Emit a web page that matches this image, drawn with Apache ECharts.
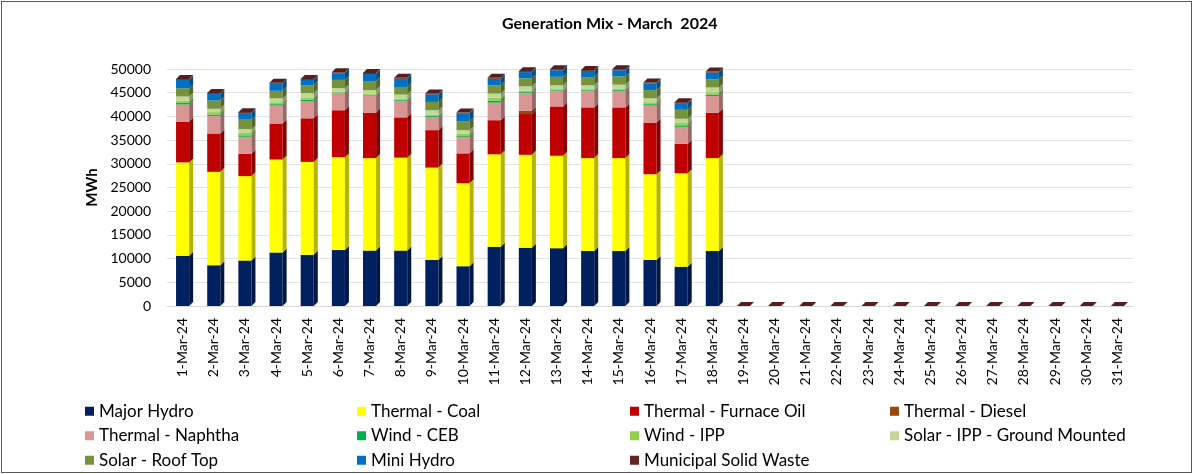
<!DOCTYPE html>
<html>
<head>
<meta charset="utf-8">
<script src="https://cdn.jsdelivr.net/npm/echarts@6/dist/echarts.min.js"></script>
<style>
  html, body { margin: 0; padding: 0; background: #fff; }
  #frame {
    position: absolute; left: 1px; top: 1px;
    width: 1189px; height: 470px;
    border: 1px solid #595959;
  }
  #echart { position: absolute; left: 0; top: 0; width: 1197px; height: 474px; }
</style>
</head>
<body>
<div id="frame"></div>
<div id="echart"></div>
<script>
var days = ['1-Mar-24', '2-Mar-24', '3-Mar-24', '4-Mar-24', '5-Mar-24', '6-Mar-24', '7-Mar-24', '8-Mar-24',
  '9-Mar-24', '10-Mar-24', '11-Mar-24', '12-Mar-24', '13-Mar-24', '14-Mar-24', '15-Mar-24', '16-Mar-24',
  '17-Mar-24', '18-Mar-24', '19-Mar-24', '20-Mar-24', '21-Mar-24', '22-Mar-24', '23-Mar-24', '24-Mar-24',
  '25-Mar-24', '26-Mar-24', '27-Mar-24', '28-Mar-24', '29-Mar-24', '30-Mar-24', '31-Mar-24'];

// MWh per day, 19-Mar onwards not reported yet
var majorHydro = [10600, 8600, 9600, 11300, 10800, 11800, 11700, 11700, 9700, 8400, 12500, 12300, 12200, 11600, 11600, 9700, 8300, 11600, 0, 0, 0, 0, 0, 0, 0, 0, 0, 0, 0, 0, 0];
var thermalCoal = [19700, 19700, 17800, 19600, 19600, 19600, 19500, 19600, 19500, 17500, 19500, 19600, 19500, 19600, 19600, 18100, 19700, 19600, 0, 0, 0, 0, 0, 0, 0, 0, 0, 0, 0, 0, 0];
var furnaceOil = [8600, 8100, 4700, 7600, 9200, 9900, 9600, 8500, 7900, 6300, 7200, 8600, 10400, 10700, 10700, 10900, 6200, 9600, 0, 0, 0, 0, 0, 0, 0, 0, 0, 0, 0, 0, 0];
var diesel = [0, 0, 0, 0, 0, 0, 0, 0, 0, 0, 0, 700, 0, 0, 0, 0, 0, 0, 0, 0, 0, 0, 0, 0, 0, 0, 0, 0, 0, 0, 0];
var naphtha = [3600, 3700, 3600, 3800, 3600, 3600, 3600, 3500, 2800, 3500, 3700, 3700, 3300, 3500, 3500, 3600, 3600, 3500, 0, 0, 0, 0, 0, 0, 0, 0, 0, 0, 0, 0, 0];
var windCEB = [350, 300, 300, 280, 300, 150, 150, 200, 200, 280, 400, 220, 150, 150, 200, 280, 320, 320, 0, 0, 0, 0, 0, 0, 0, 0, 0, 0, 0, 0, 0];
var windIPP = [450, 500, 500, 420, 500, 200, 200, 300, 300, 420, 600, 330, 200, 200, 300, 420, 480, 480, 0, 0, 0, 0, 0, 0, 0, 0, 0, 0, 0, 0, 0];
var solarIPP = [900, 700, 800, 800, 900, 700, 800, 800, 900, 700, 900, 900, 800, 800, 800, 800, 900, 1000, 0, 0, 0, 0, 0, 0, 0, 0, 0, 0, 0, 0, 0];
var solarRoof = [1750, 1750, 2000, 1600, 1700, 1750, 1900, 1600, 1750, 1900, 1750, 1700, 1800, 1750, 1750, 1750, 1900, 1750, 0, 0, 0, 0, 0, 0, 0, 0, 0, 0, 0, 0, 0];
var miniHydro = [1750, 1400, 1400, 1500, 1100, 1400, 1500, 1750, 1600, 1600, 1400, 1300, 1400, 1300, 1300, 1400, 1400, 1400, 0, 0, 0, 0, 0, 0, 0, 0, 0, 0, 0, 0, 0];
var msw = [200, 200, 200, 200, 200, 200, 200, 200, 200, 200, 200, 200, 200, 200, 200, 200, 200, 200, 0, 0, 0, 0, 0, 0, 0, 0, 0, 0, 0, 0, 0];

var yTicks = [0, 5000, 10000, 15000, 20000, 25000, 30000, 35000, 40000, 45000, 50000];

var names = ['Major Hydro', 'Thermal - Coal', 'Thermal - Furnace Oil', 'Thermal - Diesel', 'Thermal - Naphtha',
  'Wind - CEB', 'Wind - IPP', 'Solar - IPP - Ground Mounted', 'Solar - Roof Top', 'Mini Hydro', 'Municipal Solid Waste'];
var values = [majorHydro, thermalCoal, furnaceOil, diesel, naphtha, windCEB, windIPP, solarIPP, solarRoof, miniHydro, msw];
var colors = ['#002060', '#FFFF00', '#C00000', '#984807', '#DA9694', '#00B050', '#92D050', '#C4D79B', '#76933C', '#0070C0', '#632523'];

var depth = 4;

function shade(hex, k) {
  var n = parseInt(hex.slice(1), 16);
  var r = Math.round(((n >> 16) & 255) * k);
  var g = Math.round(((n >> 8) & 255) * k);
  var b = Math.round((n & 255) * k);
  return 'rgb(' + r + ',' + g + ',' + b + ')';
}

function makeRender(idx, isTop) {
  return function (params, api) {
    var lo = api.coord([api.value(0), api.value(1)]);
    var hi = api.coord([api.value(0), api.value(2)]);
    var bw = api.size([1, 0])[0] * 0.42;
    var x = lo[0] - bw / 2;
    var h = lo[1] - hi[1];
    var c = colors[idx];
    var parts = [];
    if (h > 0) {
      parts.push({type: 'rect', shape: {x: x, y: hi[1], width: bw, height: h}, style: {fill: c}});
      parts.push({
        type: 'polygon',
        shape: {points: [[x + bw, hi[1]], [x + bw + depth, hi[1] - depth], [x + bw + depth, lo[1] - depth], [x + bw, lo[1]]]},
        style: {fill: shade(c, 0.7)}
      });
    }
    if (isTop) {
      parts.push({
        type: 'polygon',
        shape: {points: [[x, hi[1]], [x + depth, hi[1] - depth], [x + bw + depth, hi[1] - depth], [x + bw, hi[1]]]},
        style: {fill: shade(c, 0.85)}
      });
    }
    return {type: 'group', children: parts};
  };
}

var series = [];
var cum = days.map(function () { return 0; });
for (var i = 0; i < names.length; i++) {
  var data = [];
  for (var j = 0; j < days.length; j++) {
    data.push([j, cum[j], cum[j] + values[i][j]]);
    cum[j] += values[i][j];
  }
  series.push({
    name: names[i],
    type: 'custom',
    renderItem: makeRender(i, i === names.length - 1),
    itemStyle: {color: colors[i]},
    encode: {x: 0, y: [1, 2]},
    clip: false,
    data: data
  });
}

function legendCol(left, items) {
  return {
    orient: 'vertical',
    left: left,
    top: 402,
    height: 90,
    padding: 0,
    icon: 'rect',
    itemWidth: 9,
    itemHeight: 9,
    itemGap: 6,
    selectedMode: false,
    textStyle: {fontFamily: 'Lato', fontSize: 17, color: '#000', lineHeight: 18.5, padding: [0, 0, 0, 0]},
    data: items
  };
}

var myChart = echarts.init(document.getElementById('echart'));
var option = {
  animation: false,
  title: {
    text: 'Generation Mix - March  2024',
    left: 497,
    top: 11,
    textStyle: {fontFamily: 'Lato', fontSize: 16, fontWeight: 'bold', color: '#000'}
  },
  legend: [
    legendCol(85, [names[0], names[4], names[8]]),
    legendCol(357, [names[1], names[5], names[9]]),
    legendCol(630, [names[2], names[6], names[10]]),
    legendCol(890, [names[3], names[7]])
  ],
  grid: {left: 167, right: 64, top: 69, bottom: 168},
  xAxis: {
    type: 'category',
    data: days,
    axisLine: {lineStyle: {color: '#d9d9d9'}},
    axisTick: {show: false},
    axisLabel: {rotate: 90, margin: 12, interval: 0, fontFamily: 'Lato', fontSize: 14, color: '#000'}
  },
  yAxis: {
    type: 'value',
    min: yTicks[0],
    max: yTicks[yTicks.length - 1],
    interval: yTicks[1] - yTicks[0],
    name: 'MWh',
    nameLocation: 'middle',
    nameGap: 51,
    nameTextStyle: {fontFamily: 'Lato', fontSize: 15, fontWeight: 'bold', color: '#000'},
    axisLine: {show: false},
    axisTick: {show: false},
    axisLabel: {
      margin: 16, fontFamily: 'Lato', fontSize: 14, color: '#000',
      formatter: function (v) { return String(v); }
    },
    splitLine: {lineStyle: {color: '#e3e3e3'}}
  },
  series: series
};
myChart.setOption(option);
</script>
</body>
</html>
